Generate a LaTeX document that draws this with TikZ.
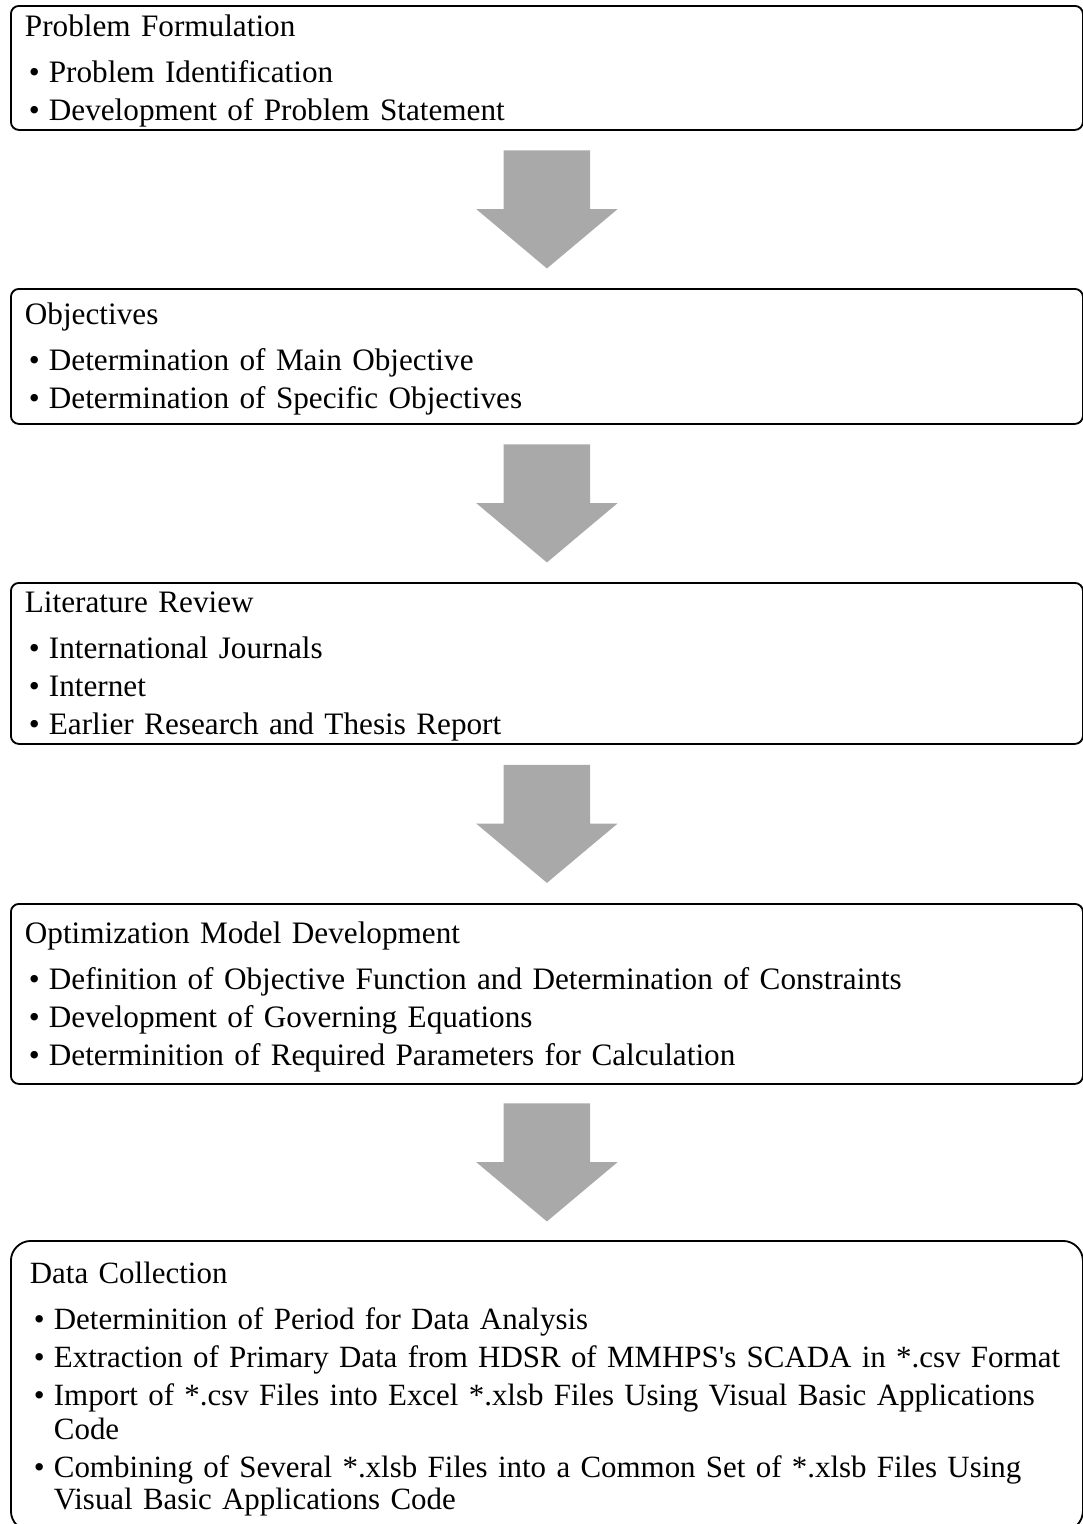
\documentclass[tikz,border=0pt]{standalone}
\usepackage{fontspec}
\setmainfont{Liberation Serif}
\usepackage{tikz}
\usetikzlibrary{shapes.arrows, positioning, calc}
\definecolor{flowgray}{RGB}{169,169,169}

\begin{document}
\begin{tikzpicture}[
  stage/.style={rectangle, draw=black, line width=1.3pt, rounded corners=0.2cm, anchor=north west, minimum width=26.8cm, text width=26.1cm, inner xsep=0.35cm, inner ysep=0pt, align=left, font=\fontsize{22.2}{27}\selectfont, execute at begin node={\rule{0pt}{0.68cm}}},
  bigstage/.style={stage, rounded corners=0.5cm, font=\fontsize{22}{27}\selectfont, execute at begin node={\rule{0pt}{0.68cm}\leftskip=0.125cm}},
  flow/.style={single arrow, fill=flowgray, draw=none, rotate=-90, anchor=tail, minimum height=2.95cm, minimum width=3.525cm, single arrow head extend=0.6875cm, single arrow tip angle=100, inner xsep=0pt, inner ysep=1.075cm, outer sep=0pt},
]
\useasboundingbox (0,0) rectangle (27.075,-38.1);

\node[stage, minimum height=3.1cm]   (form)  at (0.25,-0.125) {Problem Formulation\\[0.2cm]
  \makebox[0.6cm][l]{\hspace{0.1cm}\textbullet}Problem Identification\\
  \makebox[0.6cm][l]{\hspace{0.1cm}\textbullet}Development of Problem Statement};
\node[stage, minimum height=3.375cm] (obj)   at (0.25,-7.2)   {Objectives\\[0.2cm]
  \makebox[0.6cm][l]{\hspace{0.1cm}\textbullet}Determination of Main Objective\\
  \makebox[0.6cm][l]{\hspace{0.1cm}\textbullet}Determination of Specific Objectives};
\node[stage, minimum height=4.025cm] (lit)   at (0.25,-14.55) {Literature Review\\[0.2cm]
  \makebox[0.6cm][l]{\hspace{0.1cm}\textbullet}International Journals\\
  \makebox[0.6cm][l]{\hspace{0.1cm}\textbullet}Internet\\
  \makebox[0.6cm][l]{\hspace{0.1cm}\textbullet}Earlier Research and Thesis Report};
\node[stage, minimum height=4.5cm]   (model) at (0.25,-22.575) {Optimization Model Development\\[0.2cm]
  \makebox[0.6cm][l]{\hspace{0.1cm}\textbullet}Definition of Objective Function and Determination of Constraints\\
  \makebox[0.6cm][l]{\hspace{0.1cm}\textbullet}Development of Governing Equations\\
  \makebox[0.6cm][l]{\hspace{0.1cm}\textbullet}Determinition of Required Parameters for Calculation};
\node[bigstage, minimum height=7.25cm] (data) at (0.25,-31.0) {Data Collection\\[0.2cm]
  \makebox[0.6cm][l]{\hspace{0.1cm}\textbullet}Determinition of Period for Data Analysis\\
  \makebox[0.6cm][l]{\hspace{0.1cm}\textbullet}Extraction of Primary Data from HDSR of MMHPS\textquotesingle s SCADA in *.csv Format\\
  \makebox[0.6cm][l]{\hspace{0.1cm}\textbullet}Import of *.csv Files into Excel *.xlsb Files Using Visual Basic Applications\\[-0.1cm]
  \hspace*{0.6cm}Code\\
  \makebox[0.6cm][l]{\hspace{0.1cm}\textbullet}Combining of Several *.xlsb Files into a Common Set of *.xlsb Files Using\\[-0.15cm]
  \hspace*{0.6cm}Visual Basic Applications Code};

\node[flow] (ar1) at ($(form.south)!0.5!(obj.north)+(0,1.475)$)   {};
\node[flow] (ar2) at ($(obj.south)!0.5!(lit.north)+(0,1.475)$)    {};
\node[flow] (ar3) at ($(lit.south)!0.5!(model.north)+(0,1.475)$)  {};
\node[flow] (ar4) at ($(model.south)!0.5!(data.north)+(0,1.475)$) {};
\end{tikzpicture}
\end{document}
